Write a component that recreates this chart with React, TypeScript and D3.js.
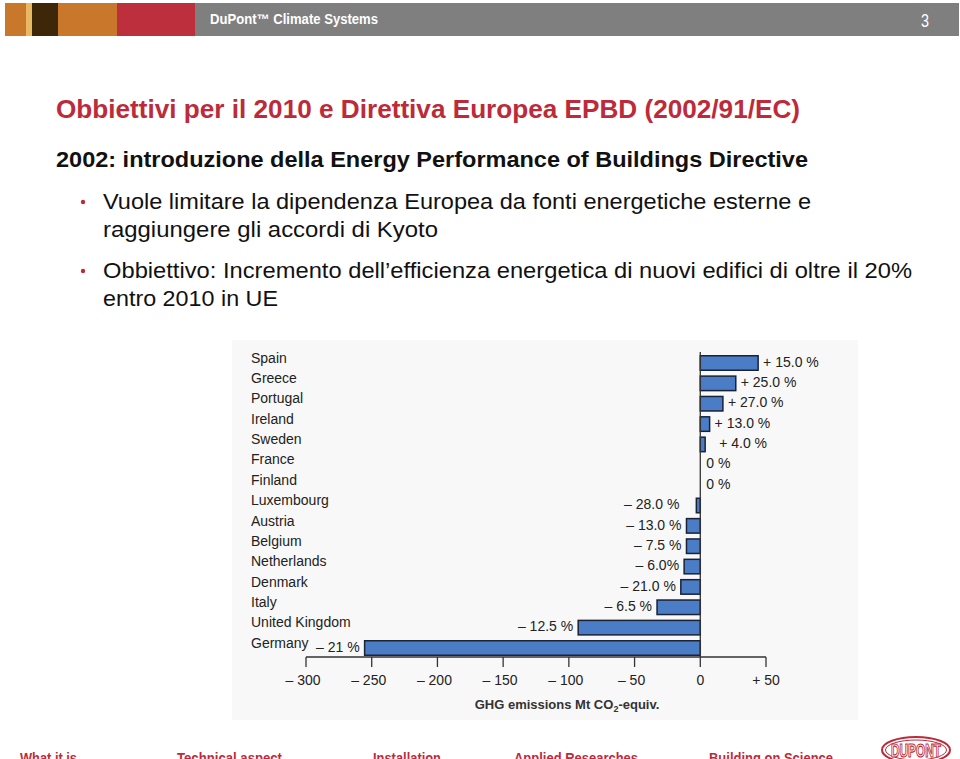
import React, { useEffect } from "react";
import * as d3 from "d3";

const countries = ["Spain", "Greece", "Portugal", "Ireland", "Sweden", "France", "Finland", "Luxembourg", "Austria", "Belgium", "Netherlands", "Denmark", "Italy", "United Kingdom", "Germany"];
const emissions = [44, 27, 17.2, 7.1, 3.7, 0, 0, -3, -10.5, -10.5, -12.3, -14.8, -32.9, -92.9, -255.4];
const targets = ["+ 15.0 %", "+ 25.0 %", "+ 27.0 %", "+ 13.0 %", "+ 4.0 %", "0 %", "0 %", "– 28.0 %", "– 13.0 %", "– 7.5 %", "– 6.0%", "– 21.0 %", "– 6.5 %", "– 12.5 %", "– 21 %"];
const tickValues = [-300, -250, -200, -150, -100, -50, 0, 50];
const tickLabels = ["– 300", "– 250", "– 200", "– 150", "– 100", "– 50", "0", "+ 50"];
const footerItems = ["What it is", "Technical aspect", "Installation", "Applied Researches", "Building on Science"];
const footerX = [20, 177, 373, 514, 709];
const footerW = [57, 105, 68, 124, 124];

const RED = "#bd2b3b";
const FONT = "'Liberation Sans', Arial, sans-serif";

export default function App() {
  useEffect(() => {
    document.body.style.margin = "0";
  }, []);

  const x = d3.scaleLinear().domain([-300, 50]).range([306, 766]);
  const y = d3.scalePoint<string>().domain(countries).range([363, 648]);
  const barH = 14.5;
  const axisY = 657;

  return (
    <svg width={960} height={759} style={{ position: "absolute", left: 0, top: 0, display: "block" }} fontFamily={FONT}>
      <rect x={0} y={0} width={960} height={759} fill="#ffffff" />
      {/* Header */}
      <rect x={195} y={3} width={764} height={33} fill="#7f7f7f" />
      <rect x={5} y={3} width={21} height={33} fill="#c8772b" />
      <rect x={26} y={3} width={6} height={33} fill="#e9b862" />
      <rect x={32} y={3} width={26} height={33} fill="#3e2709" />
      <rect x={58} y={3} width={59} height={33} fill="#c8772b" />
      <rect x={117} y={3} width={78} height={33} fill="#bd2f3c" />
      <text x={210} y={24} fill="#fff" fontSize={14} fontWeight="bold" textLength={168} lengthAdjust="spacingAndGlyphs">DuPont™ Climate Systems</text>
      <text x={921} y={27} fill="#fff" fontSize={18} textLength={8} lengthAdjust="spacingAndGlyphs">3</text>

      {/* Title & bullets */}
      <text x={56} y={118} fill={RED} fontSize={25} fontWeight="bold" textLength={744} lengthAdjust="spacingAndGlyphs">Obbiettivi per il 2010 e Direttiva Europea EPBD (2002/91/EC)</text>
      <text x={56} y={167} fill="#111" fontSize={22} fontWeight="bold" textLength={752} lengthAdjust="spacingAndGlyphs">2002: introduzione della Energy Performance of Buildings Directive</text>
      <circle cx={83} cy={202} r={2.2} fill={RED} />
      <text x={103} y={209} fill="#111" fontSize={22.5} textLength={708} lengthAdjust="spacingAndGlyphs">Vuole limitare la dipendenza Europea da fonti energetiche esterne e</text>
      <text x={103} y={237} fill="#111" fontSize={22.5} textLength={335} lengthAdjust="spacingAndGlyphs">raggiungere gli accordi  di Kyoto</text>
      <circle cx={83} cy={271} r={2.2} fill={RED} />
      <text x={103} y={278} fill="#111" fontSize={22.5} textLength={809} lengthAdjust="spacingAndGlyphs">Obbiettivo: Incremento dell’efficienza energetica di nuovi edifici di oltre  il 20%</text>
      <text x={103} y={306} fill="#111" fontSize={22.5} textLength={175} lengthAdjust="spacingAndGlyphs">entro 2010 in UE</text>

      {/* Chart panel */}
      <rect x={232} y={340} width={626} height={380} fill="#f8f8f8" />
      {countries.map((c, i) => {
        const v = emissions[i];
        const x0 = x(Math.min(0, v));
        const w = Math.abs(x(v) - x(0));
        const cy = y(c) as number;
        return (
          <g key={c}>
            <text x={251} y={cy - 4} fontSize={14} fill="#222" dominantBaseline="middle">{c}</text>
            {w > 0 && (
              <rect x={x0} y={cy - barH / 2} width={w} height={barH} fill="#4a7dc6" stroke="#1a2236" strokeWidth={1.5} />
            )}
            {v > 0 ? (
              <text x={x(v) + (v < 5 ? 14 : 5)} y={cy} fontSize={14} fill="#222" dominantBaseline="middle">{targets[i]}</text>
            ) : v < 0 ? (
              <text x={x(v) - (v > -5 ? 17 : 5)} y={cy} fontSize={14} fill="#222" textAnchor="end" dominantBaseline="middle">{targets[i]}</text>
            ) : (
              <text x={x(0) + 6} y={cy} fontSize={14} fill="#222" dominantBaseline="middle">{targets[i]}</text>
            )}
          </g>
        );
      })}
      {/* zero line */}
      <line x1={x(0)} x2={x(0)} y1={352} y2={axisY} stroke="#333" strokeWidth={1.3} />
      {/* x axis */}
      <line x1={x(-300)} x2={x(50)} y1={axisY} y2={axisY} stroke="#333" strokeWidth={1.3} />
      {tickValues.map((t, i) => (
        <g key={t}>
          <line x1={x(t)} x2={x(t)} y1={axisY} y2={axisY + 10} stroke="#333" strokeWidth={1.3} />
          <text x={x(t) - (t < 0 ? 3 : 0)} y={681} fontSize={14} fill="#222" textAnchor="middle" dominantBaseline="middle">{tickLabels[i]}</text>
        </g>
      ))}
      <text x={567} y={706} fontSize={13} fontWeight="bold" fill="#333" textAnchor="middle" dominantBaseline="middle">
        GHG emissions Mt CO<tspan fontSize={9} dy={4}>2</tspan><tspan dy={-4}>-equiv.</tspan>
      </text>

      {/* Footer */}
      {footerItems.map((f, i) => (
        <text key={f} x={footerX[i]} y={763} fill={RED} fontSize={15} fontWeight="bold" textLength={footerW[i]} lengthAdjust="spacingAndGlyphs">{f}</text>
      ))}
      <g>
        <ellipse cx={916} cy={750} rx={34} ry={13} fill="#fff" stroke={RED} strokeWidth={2} />
        <ellipse cx={916} cy={750} rx={30.5} ry={10} fill="none" stroke={RED} strokeWidth={1} />
        <text x={916} y={757} textAnchor="middle" fontSize={19} fontWeight="bold" fill="#fff" stroke={RED} strokeWidth={1.2} textLength={50} lengthAdjust="spacingAndGlyphs">DUPONT</text>
      </g>
    </svg>
  );
}
